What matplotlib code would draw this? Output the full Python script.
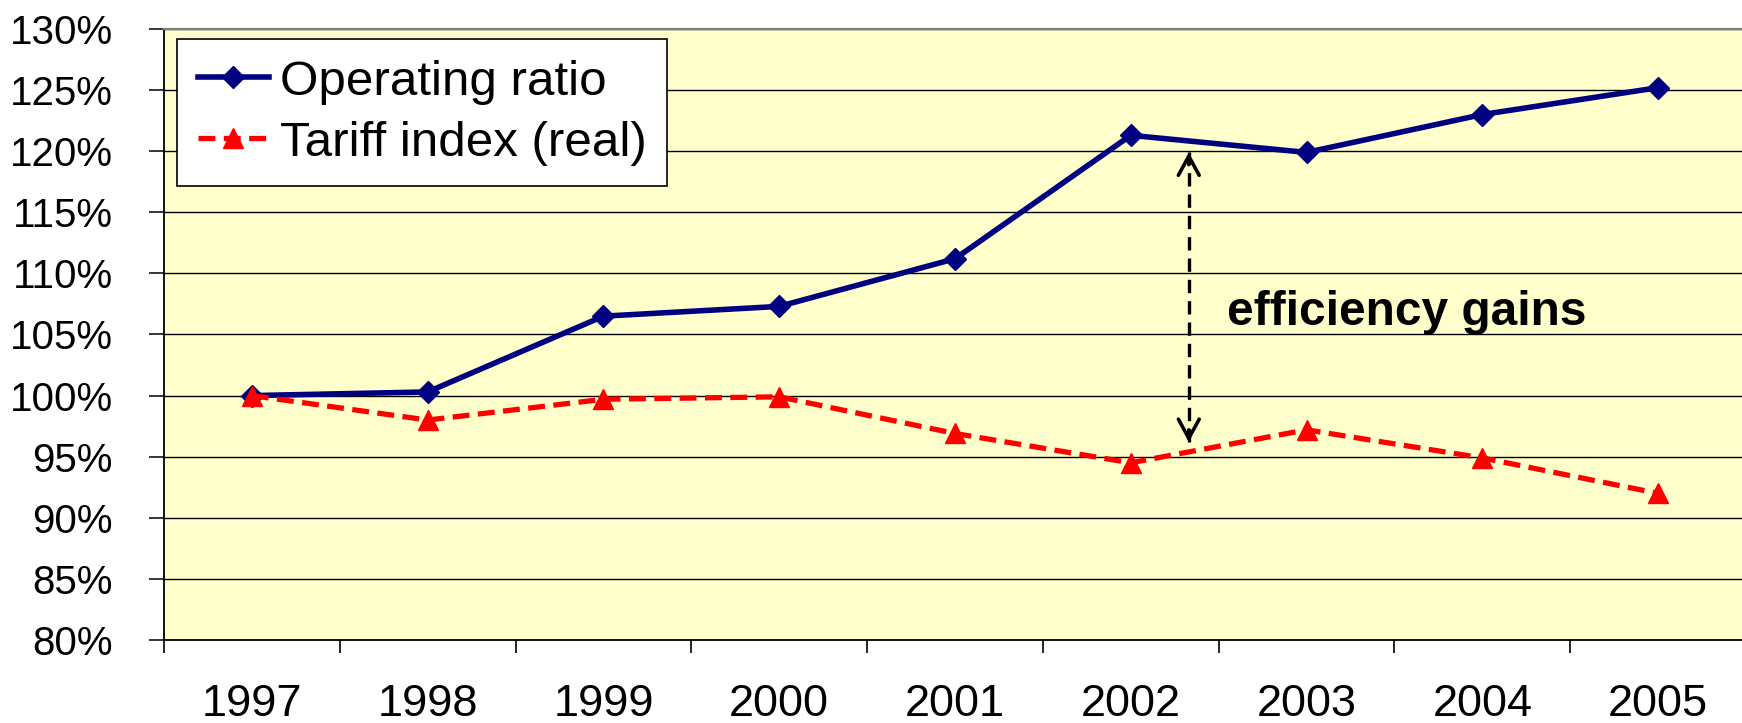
import numpy as np
import matplotlib.pyplot as plt

plt.rcParams['font.family'] = ['Liberation Sans', 'DejaVu Sans']

# ----------------------------
# Data
# ----------------------------
years = ["1997", "1998", "1999", "2000", "2001", "2002", "2003", "2004", "2005"]
operating_ratio = [100.0, 100.3, 106.5, 107.3, 111.2, 121.3, 119.9, 123.0, 125.2]
tariff_index = [100.0, 98.0, 99.7, 99.9, 96.9, 94.5, 97.2, 94.9, 92.0]

yticks = [80, 85, 90, 95, 100, 105, 110, 115, 120, 125, 130]

# arrow marking the gap between the two series (in data units)
arrow_x = 5.33
arrow_top = 119.9
arrow_bottom = 96.2
note_text = "efficiency gains"

# ----------------------------
# Figure
# ----------------------------
fig = plt.figure(figsize=(17.42, 7.23), dpi=100)
ax = fig.add_axes([164 / 1742, 83 / 723, 1582 / 1742, 611 / 723])
ax.set_facecolor("#FFFFCC")

x = np.arange(len(years))

ax.plot(x, operating_ratio, color="#000080", linewidth=4, marker="D",
        markersize=11, label="Operating ratio", zorder=4)
ax.plot(x, tariff_index, color="#FF0000", linewidth=3.8, linestyle=(0, (3.2, 1.6)),
        marker="^", markersize=15, label="Tariff index (real)", zorder=4)

# y axis
ax.set_ylim(80, 130)
ax.set_yticks(yticks)
ax.set_yticklabels([f"{v}%" for v in yticks])
ax.yaxis.grid(True, color="black", linewidth=1.0)
ax.set_axisbelow(True)
ax.tick_params(axis="y", direction="out", length=11, width=1.1, pad=26,
               labelsize=29)

# x axis: category ticks between years, labels centred
ax.set_xlim(-0.5, len(years) - 0.5)
ax.set_xticks(np.arange(-0.5, len(years), 1.0))
ax.set_xticklabels([])
ax.set_xticks(x, minor=True)
ax.set_xticklabels(years, minor=True)
ax.tick_params(axis="x", which="major", direction="out", length=9, width=1.2)
ax.tick_params(axis="x", which="minor", length=0, pad=32, labelsize=32.5)

for side in ["left", "bottom"]:
    ax.spines[side].set_color("black")
    ax.spines[side].set_linewidth(1.3)
ax.spines["top"].set_color("#808080")
ax.spines["top"].set_linewidth(1.6)
ax.spines["right"].set_visible(False)

# annotation: dashed shaft with solid open heads at both ends
ax.plot([arrow_x, arrow_x], [arrow_bottom, arrow_top], color="black",
        linewidth=2.4, linestyle=(0, (4, 2.4)), zorder=5)
head = dict(arrowstyle="->,head_length=0.55,head_width=0.3", color="black",
            linewidth=2.6, mutation_scale=25, shrinkA=0, shrinkB=0)
ax.annotate("", xy=(arrow_x, arrow_top), xytext=(arrow_x, arrow_top - 1.0),
            arrowprops=head, zorder=5)
ax.annotate("", xy=(arrow_x, arrow_bottom), xytext=(arrow_x, arrow_bottom + 1.0),
            arrowprops=head, zorder=5)
ax.text(5.55, 106.8, note_text, fontsize=34.5, fontweight="bold",
        ha="left", va="center", zorder=5)

leg = ax.legend(loc="upper left", bbox_to_anchor=(0.0082, 0.9836),
                borderaxespad=0, fontsize=35.5, handlelength=1.45,
                handletextpad=0.22, borderpad=0.42, labelspacing=0.32,
                fancybox=False, framealpha=1, edgecolor="black")
leg.get_frame().set_linewidth(1.2)

fig.savefig("out.png", dpi=100)
